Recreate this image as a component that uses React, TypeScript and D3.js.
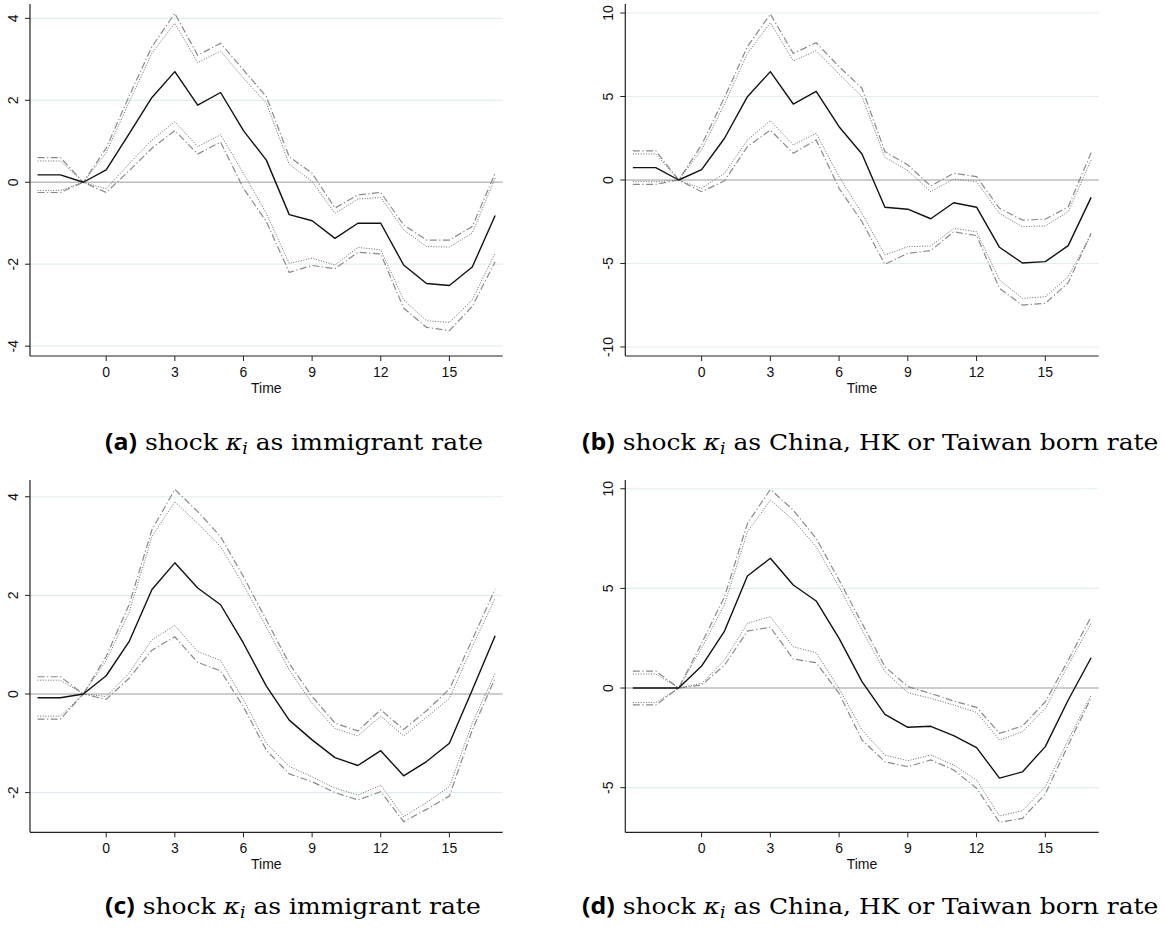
import React from "react";
import * as d3 from "d3";

// Event time: three leads before the shock through seventeen periods after it
const periods = [-3, -2, -1, 0, 1, 2, 3, 4, 5, 6, 7, 8, 9, 10, 11, 12, 13, 14, 15, 16, 17];
const xTicks = [0, 3, 6, 9, 12, 15];

// (a) immigrant rate, first specification
const aEstimate = [0.18, 0.18, 0, 0.3, 1.18, 2.07, 2.7, 1.88, 2.19, 1.26, 0.54, -0.79, -0.94, -1.37, -1.0, -1.0, -2.02, -2.47, -2.52, -2.07, -0.81];
const aUpper95 = [0.6, 0.6, 0, 0.83, 2.1, 3.31, 4.12, 3.1, 3.39, 2.74, 2.09, 0.62, 0.22, -0.63, -0.31, -0.25, -1.04, -1.41, -1.41, -1.08, 0.22];
const aUpper90 = [0.52, 0.52, 0, 0.72, 1.95, 3.15, 3.88, 2.92, 3.2, 2.54, 1.93, 0.44, 0.02, -0.76, -0.41, -0.37, -1.16, -1.57, -1.58, -1.24, 0.1];
const aLower90 = [-0.2, -0.2, 0, -0.16, 0.45, 1.03, 1.48, 0.87, 1.16, 0.22, -0.76, -1.98, -1.85, -2.02, -1.59, -1.65, -2.87, -3.38, -3.42, -2.87, -1.73];
const aLower95 = [-0.25, -0.25, 0, -0.25, 0.28, 0.83, 1.26, 0.69, 0.98, -0.15, -0.96, -2.2, -2.03, -2.11, -1.71, -1.75, -3.07, -3.54, -3.62, -3.03, -1.94];
const aYTicks = [-4, -2, 0, 2, 4];

// (b) China, HK or Taiwan born rate, first specification
const bEstimate = [0.74, 0.74, 0, 0.62, 2.5, 4.99, 6.49, 4.55, 5.31, 3.19, 1.56, -1.63, -1.75, -2.32, -1.36, -1.63, -4.03, -4.97, -4.89, -3.93, -1.04];
const bUpper95 = [1.74, 1.74, 0, 2.1, 4.95, 7.98, 9.94, 7.58, 8.22, 6.79, 5.49, 1.7, 0.9, -0.36, 0.4, 0.2, -1.7, -2.4, -2.35, -1.6, 1.64];
const bUpper90 = [1.56, 1.56, 0, 1.8, 4.55, 7.58, 9.42, 7.13, 7.74, 6.35, 4.99, 1.36, 0.56, -0.7, 0.06, -0.1, -2.0, -2.8, -2.75, -1.9, 1.2];
const bLower90 = [-0.1, -0.1, 0, -0.5, 0.4, 2.4, 3.55, 2.1, 2.8, 0.2, -2.0, -4.49, -3.99, -3.95, -2.9, -3.1, -5.99, -7.09, -6.99, -5.79, -3.29];
const bLower95 = [-0.26, -0.26, 0, -0.7, -0.05, 2.0, 2.99, 1.6, 2.4, -0.5, -2.5, -5.05, -4.39, -4.23, -3.1, -3.33, -6.49, -7.49, -7.39, -6.15, -3.19];
const bYTicks = [-10, -5, 0, 5, 10];

// (c) immigrant rate, second specification
const cEstimate = [-0.075, -0.075, 0, 0.37, 1.06, 2.12, 2.66, 2.15, 1.81, 1.03, 0.16, -0.53, -0.93, -1.29, -1.45, -1.15, -1.66, -1.37, -1.0, 0.08, 1.18];
const cUpper95 = [0.35, 0.35, 0, 0.76, 1.81, 3.33, 4.15, 3.7, 3.19, 2.38, 1.5, 0.62, -0.05, -0.59, -0.75, -0.32, -0.72, -0.34, 0.1, 1.1, 2.13];
const cUpper90 = [0.28, 0.28, 0, 0.68, 1.65, 3.19, 3.9, 3.46, 2.99, 2.21, 1.36, 0.49, -0.19, -0.7, -0.85, -0.45, -0.85, -0.47, -0.09, 0.96, 1.94];
const cLower90 = [-0.45, -0.45, 0, -0.05, 0.42, 1.1, 1.39, 0.86, 0.68, -0.12, -1.0, -1.47, -1.68, -1.91, -2.05, -1.85, -2.49, -2.2, -1.88, -0.59, 0.42];
const cLower95 = [-0.51, -0.51, 0, -0.11, 0.32, 0.89, 1.16, 0.64, 0.47, -0.26, -1.14, -1.62, -1.78, -2.0, -2.15, -1.98, -2.59, -2.34, -2.07, -0.73, 0.32];
const cYTicks = [-2, 0, 2, 4];

// (d) China, HK or Taiwan born rate, second specification
const dEstimate = [0, 0, 0, 1.1, 2.86, 5.62, 6.51, 5.17, 4.37, 2.49, 0.32, -1.32, -1.97, -1.92, -2.39, -2.99, -4.52, -4.21, -2.94, -0.6, 1.52];
const dUpper95 = [0.85, 0.85, 0, 2.24, 4.58, 8.26, 9.97, 8.93, 7.51, 5.42, 3.25, 1.07, 0.07, -0.27, -0.65, -0.97, -2.27, -1.91, -0.69, 1.4, 3.58];
const dUpper90 = [0.7, 0.7, 0, 2.0, 4.2, 7.84, 9.43, 8.43, 7.09, 5.08, 2.91, 0.82, -0.23, -0.52, -0.85, -1.22, -2.61, -2.19, -1.02, 1.15, 3.25];
const dLower90 = [-0.72, -0.72, 0, 0.23, 1.4, 3.25, 3.58, 2.07, 1.77, -0.02, -2.11, -3.36, -3.65, -3.36, -3.86, -4.62, -6.42, -6.16, -4.95, -2.61, -0.35];
const dLower95 = [-0.85, -0.85, 0, 0.15, 1.15, 2.86, 3.05, 1.46, 1.27, -0.27, -2.61, -3.7, -3.95, -3.61, -4.11, -5.03, -6.74, -6.54, -5.32, -2.86, -0.49];
const dYTicks = [-5, 0, 5, 10];

const tags = ["a", "b", "c", "d"];
const captionTexts = ["as immigrant rate", "as China, HK or Taiwan born rate", "as immigrant rate", "as China, HK or Taiwan born rate"];

type Panel = {
  tag: string;
  caption: string;
  estimate: number[];
  upper95: number[];
  upper90: number[];
  lower90: number[];
  lower95: number[];
  yTicks: number[];
  yDomain: [number, number];
  left: number;
  right: number;
  top: number;
  bottom: number;
  capX: number;
  capY: number;
};

const panels: Panel[] = [
  { tag: tags[0], caption: captionTexts[0], estimate: aEstimate, upper95: aUpper95, upper90: aUpper90, lower90: aLower90, lower95: aLower95, yTicks: aYTicks, yDomain: [-4.24, 4.35], left: 30, right: 502.7, top: 4, bottom: 356, capX: 105, capY: 450 },
  { tag: tags[1], caption: captionTexts[1], estimate: bEstimate, upper95: bUpper95, upper90: bUpper90, lower90: bLower90, lower95: bLower95, yTicks: bYTicks, yDomain: [-10.54, 10.54], left: 625.3, right: 1098.7, top: 4, bottom: 356, capX: 582, capY: 450 },
  { tag: tags[2], caption: captionTexts[2], estimate: cEstimate, upper95: cUpper95, upper90: cUpper90, lower90: cLower90, lower95: cLower95, yTicks: cYTicks, yDomain: [-2.805, 4.34], left: 30, right: 502.7, top: 480, bottom: 832.3, capX: 105, capY: 914 },
  { tag: tags[3], caption: captionTexts[3], estimate: dEstimate, upper95: dUpper95, upper90: dUpper90, lower90: dLower90, lower95: dLower95, yTicks: dYTicks, yDomain: [-7.24, 10.44], left: 625.3, right: 1098.7, top: 480, bottom: 832.3, capX: 582, capY: 914 },
];

const SANS = "'Liberation Sans', Arial, sans-serif";
const SERIF = "'DejaVu Serif', 'Liberation Serif', serif";
const BOLD_SANS = "'Open Sans', 'Noto Sans', sans-serif";

function PanelChart({ p }: { p: Panel }) {
  const x = d3.scaleLinear().domain([-3.33, 17.33]).range([p.left, p.right]);
  const y = d3.scaleLinear().domain(p.yDomain).range([p.bottom, p.top]);
  const line = d3
    .line<number>()
    .x((_, i) => x(periods[i]))
    .y((v) => y(v));

  return (
    <g>
      {/* horizontal grid */}
      {p.yTicks
        .filter((t) => t !== 0)
        .map((t) => (
          <line key={"g" + t} x1={p.left} x2={p.right} y1={y(t)} y2={y(t)} stroke="#e4eef0" strokeWidth={1.2} />
        ))}
      {/* zero reference line */}
      <line x1={p.left} x2={p.right} y1={y(0)} y2={y(0)} stroke="#bdbdbd" strokeWidth={1.6} />

      {/* confidence bands and point estimate */}
      <path d={line(p.upper95) ?? ""} fill="none" stroke="#8a8a8a" strokeWidth={1.2} strokeDasharray="7 2.5 1.2 2.5" />
      <path d={line(p.lower95) ?? ""} fill="none" stroke="#8a8a8a" strokeWidth={1.2} strokeDasharray="7 2.5 1.2 2.5" />
      <path d={line(p.upper90) ?? ""} fill="none" stroke="#6a6a6a" strokeWidth={1} strokeDasharray="1 1.6" />
      <path d={line(p.lower90) ?? ""} fill="none" stroke="#6a6a6a" strokeWidth={1} strokeDasharray="1 1.6" />
      <path d={line(p.estimate) ?? ""} fill="none" stroke="#111" strokeWidth={1.4} strokeLinejoin="round" />

      {/* axes */}
      <line x1={p.left} x2={p.left} y1={p.top} y2={p.bottom} stroke="#222" strokeWidth={1.2} />
      <line x1={p.left} x2={p.right} y1={p.bottom} y2={p.bottom} stroke="#222" strokeWidth={1.2} />

      {p.yTicks.map((t) => (
        <g key={"y" + t}>
          <line x1={p.left - 5} x2={p.left} y1={y(t)} y2={y(t)} stroke="#222" strokeWidth={1} />
          <text
            transform={`translate(${p.left - 12},${y(t)}) rotate(-90)`}
            textAnchor="middle"
            style={{ fontFamily: SANS, fontSize: 14 }}
            fill="#111"
          >
            {t}
          </text>
        </g>
      ))}

      {xTicks.map((t) => (
        <g key={"x" + t}>
          <line x1={x(t)} x2={x(t)} y1={p.bottom} y2={p.bottom + 5} stroke="#222" strokeWidth={1} />
          <text x={x(t)} y={p.bottom + 21} textAnchor="middle" style={{ fontFamily: SANS, fontSize: 14 }} fill="#111">
            {t}
          </text>
        </g>
      ))}
      <text x={x(7)} y={p.bottom + 37} textAnchor="middle" style={{ fontFamily: SANS, fontSize: 14 }} fill="#111">
        Time
      </text>

      {/* sub-figure caption */}
      <text
        transform={`translate(${p.capX},${p.capY}) scale(1.085,1)`}
        fill="#000"
        style={{ fontFamily: SERIF, fontSize: 23 }}
      >
        <tspan style={{ fontFamily: BOLD_SANS, fontWeight: 700, fontSize: 23 }}>({p.tag})</tspan>
        <tspan> shock </tspan>
        <tspan style={{ fontStyle: "italic" }}>κ</tspan>
        <tspan style={{ fontStyle: "italic", fontSize: 16 }} dy={3.5}>i</tspan>
        <tspan dy={-3.5}> {p.caption}</tspan>
      </text>
    </g>
  );
}

export default function App() {
  return (
    <svg
      width={1164}
      height={938}
      viewBox="0 0 1164 938"
      style={{ position: "absolute", left: 0, top: 0, background: "#fff" }}
    >
      <rect width={1164} height={938} fill="#fff" />
      {panels.map((p) => (
        <PanelChart key={p.tag} p={p} />
      ))}
    </svg>
  );
}
